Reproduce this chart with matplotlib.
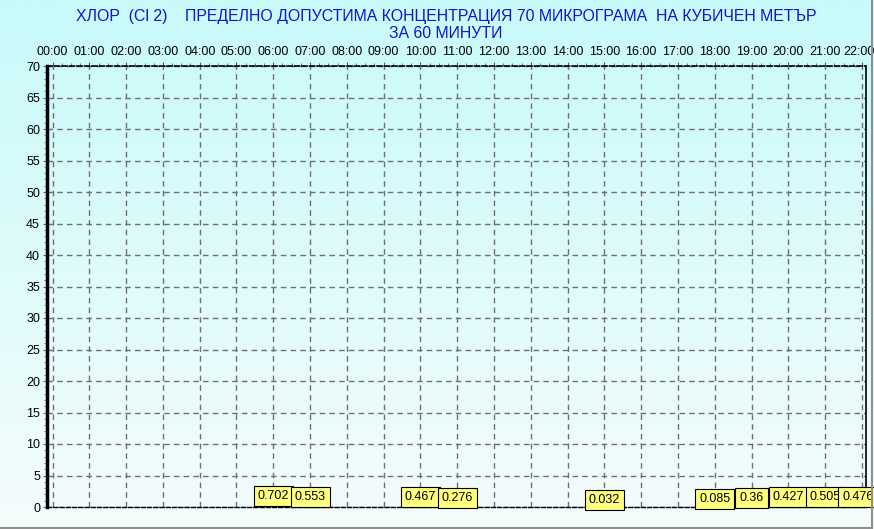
import numpy as np
import matplotlib
matplotlib.use("Agg")
import matplotlib.pyplot as plt
from matplotlib.lines import Line2D
from matplotlib.ticker import MultipleLocator
from matplotlib.transforms import ScaledTranslation

plt.rcParams["font.family"] = ["Liberation Sans", "DejaVu Sans"]

hours = ["00:00", "01:00", "02:00", "03:00", "04:00", "05:00", "06:00", "07:00",
         "08:00", "09:00", "10:00", "11:00", "12:00", "13:00", "14:00", "15:00",
         "16:00", "17:00", "18:00", "19:00", "20:00", "21:00", "22:00"]
bar_hours = [6, 7, 10, 11, 15, 18, 19, 20, 21, 22]
bar_values = [0.702, 0.553, 0.467, 0.276, 0.032, 0.085, 0.36, 0.427, 0.505, 0.476]
bar_labels = ["0.702", "0.553", "0.467", "0.276", "0.032", "0.085", "0.36", "0.427", "0.505", "0.476"]

title = ("ХЛОР  (Cl 2)    ПРЕДЕЛНО ДОПУСТИМА КОНЦЕНТРАЦИЯ 70 МИКРОГРАМА  НА КУБИЧЕН МЕТЪР\n"
         "ЗА 60 МИНУТИ")

fig = plt.figure(figsize=(8.74, 5.29), dpi=100)

# background gradient, cyan at top fading to white
bg = fig.add_axes([0, 0, 1, 1], zorder=-10)
top = np.array([200, 250, 250]) / 255
bot = np.array([245, 252, 252]) / 255
t = np.linspace(0, 1, 256)[:, None]
grad = (top * (1 - t) + bot * t)[:, None, :]
bg.imshow(grad, aspect="auto", extent=[0, 1, 0, 1])
bg.axis("off")

ax = fig.add_axes([47 / 874, 22 / 529, 819 / 874, 441 / 529])
ax.set_facecolor("none")

ax.bar(bar_hours, bar_values, width=0.27, color="#c01010", zorder=3)
for i, (x, v, lab) in enumerate(zip(bar_hours, bar_values, bar_labels)):
    dx = -4 if i == len(bar_hours) - 1 else 0
    ax.annotate(lab, (x, v), xytext=(dx, 1), textcoords="offset pixels",
                ha="center", va="bottom", fontsize=9, zorder=5,
                bbox=dict(boxstyle="square,pad=0.32", fc="#ffff80", ec="black", lw=0.8))

ax.set_xlim(-0.15, 22.11)
ax.set_ylim(0, 70)
ax.set_xticks(range(len(hours)))
ax.set_xticklabels(hours)
ax.xaxis.tick_top()
ax.xaxis.set_minor_locator(MultipleLocator(0.25))
ax.yaxis.set_major_locator(MultipleLocator(5))
ax.yaxis.set_minor_locator(MultipleLocator(1))
ax.tick_params(axis="both", labelsize=9, length=3, pad=2, color="#606060")
ax.tick_params(which="minor", length=2, color="#606060")
ax.tick_params(axis="x", pad=3)

ax.grid(True, linestyle=(0, (4, 3)), color="#707070", linewidth=1)
ax.set_axisbelow(True)

ax.spines["left"].set_linewidth(2.5)
ax.spines["left"].set_color("black")
ax.spines["right"].set_linewidth(1.2)
ax.spines["top"].set_linestyle((0, (3, 1.5)))
ax.spines["top"].set_linewidth(1.2)
ax.spines["bottom"].set_linestyle((0, (3, 1.5)))
ax.spines["bottom"].set_linewidth(1)

fig.canvas.draw()
last = ax.get_xticklabels()[-1]
last.set_transform(last.get_transform() + ScaledTranslation(-3 / 100, 0, fig.dpi_scale_trans))

fig.text(446 / 874, 1 - 9 / 529, title, ha="center", va="top", fontsize=11.4,
         color="#1414c8", linespacing=1.2)

# grey frame at right and bottom
fig.add_artist(Line2D([0, 872 / 874], [1.5 / 529, 1.5 / 529], color="#909090", lw=1.5))
fig.add_artist(Line2D([872 / 874, 872 / 874], [1.5 / 529, 1], color="#909090", lw=1.5))

fig.savefig("out.png", dpi=100)
